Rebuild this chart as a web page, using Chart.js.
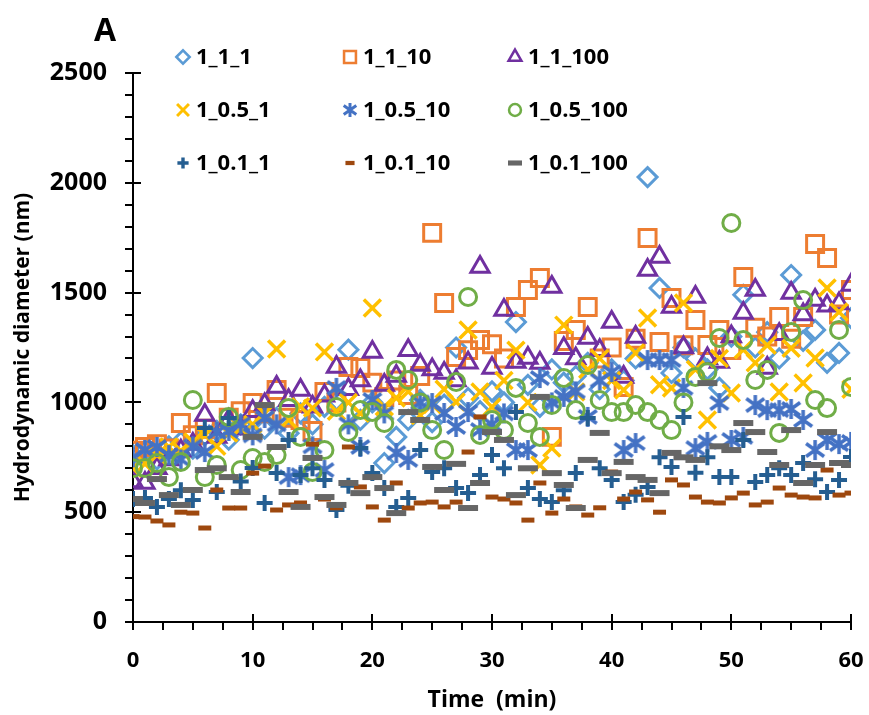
<!DOCTYPE html>
<html>
<head>
<meta charset="utf-8">
<script src="https://cdn.jsdelivr.net/npm/chart.js@4.4.1/dist/chart.umd.min.js"></script>
<style>
  html, body { margin: 0; padding: 0; background: #ffffff; }
  #wrap { position: relative; width: 869px; height: 715px; }
</style>
</head>
<body>
<div id="wrap"><canvas id="chart" width="869" height="715"></canvas></div>
<script>
// Sampling times (min)
const times = [0, 1, 2, 3, 4, 5, 6, 7, 8, 9,
  10, 11, 12, 13, 14, 15, 16, 17, 18, 19,
  20, 21, 22, 23, 24, 25, 26, 27, 28, 29,
  30, 31, 32, 33, 34, 35, 36, 37, 38, 39,
  40, 41, 42, 43, 44, 45, 46, 47, 48, 49,
  50, 51, 52, 53, 54, 55, 56, 57, 58, 59, 60];

// Hydrodynamic diameter (nm) per formulation
const d_1_1_1 = [760, 780, 740, 800, 820, 790, 850, 870, 830, 900,
  1202, 880, 930, 860, 950, 900, 980, 1010, 1240, 920,
  1000, 724, 843, 920, 1011, 910, 990, 1250, 1020, 960,
  1050, 1000, 1366, 1080, 980, 1150, 1090, 1120, 1180, 1060,
  1150, 1100, 1200, 2026, 1521, 1134, 1250, 1200, 1150, 1066,
  1300, 1490, 1250, 1320, 1200, 1580, 1280, 1330, 1180, 1225, 1384];
const d_1_1_10 = [780, 797, 810, 790, 906, 850, 880, 1043, 930, 960,
  997, 950, 1056, 930, 920, 870, 1047, 1000, 1161, 1157,
  1090, 1025, 1100, 1034, 1120, 1772, 1453, 1207, 1238, 1284,
  1265, 1200, 1434, 1512, 1566, 843, 1280, 1330, 1434, 1200,
  1250, 1070, 1290, 1749, 1275, 1475, 1260, 1375, 1261, 1330,
  1238, 1571, 1340, 1300, 1389, 1290, 1389, 1721, 1658, 1400, 1512];
const d_1_1_100 = [640, 633, 700, 740, 780, 810, 943, 843, 920, 880,
  960, 990, 1070, 1010, 1056, 980, 1030, 1161, 1060, 1100,
  1230, 1079, 1120, 1238, 1170, 1150, 1134, 1100, 1180, 1617,
  1157, 1421, 1184, 1202, 1179, 1525, 1247, 1200, 1293, 1238,
  1366, 1116, 1298, 1603, 1662, 1434, 1250, 1480, 1200, 1184,
  1300, 1407, 1512, 1157, 1310, 1498, 1400, 1466, 1440, 1450, 1535];
const d_1_05_1 = [700, 720, 760, 797, 780, 820, 850, 800, 860, 883,
  900, 950, 1243, 920, 980, 974, 1230, 960, 1000, 950,
  1430, 980, 1020, 1050, 940, 990, 1060, 1002, 1330, 1047,
  979, 1100, 1238, 1000, 715, 792, 1352, 1047, 1150, 1200,
  1100, 1056, 1225, 1384, 1080, 1066, 1453, 1150, 920, 1200,
  1043, 1240, 1180, 1260, 1047, 1247, 1088, 1202, 1521, 1412, 1060];
const d_1_05_10 = [750, 783, 797, 760, 740, 800, 774, 865, 870, 900,
  850, 929, 900, 660, 669, 800, 692, 1066, 900, 797,
  1011, 950, 770, 738, 1000, 997, 952, 888, 956, 874,
  900, 950, 783, 783, 1111, 1000, 1025, 1050, 934, 1100,
  1138, 783, 815, 1193, 1193, 1193, 1066, 792, 820, 997,
  829, 843, 988, 965, 965, 970, 920, 783, 829, 810, 820];
const d_1_05_100 = [700, 701, 724, 660, 729, 1011, 660, 715, 934, 692,
  747, 729, 760, 975, 843, 683, 783, 979, 865, 965,
  956, 906, 1148, 1102, 1000, 874, 783, 1093, 1480, 852,
  920, 874, 1066, 906, 843, 988, 1111, 965, 1170, 1011,
  956, 956, 988, 956, 920, 874, 1000, 1116, 1138, 1293,
  1817, 1284, 1102, 1148, 861, 1321, 1466, 1011, 974, 1330, 1070];
const d_1_01_1 = [560, 565, 524, 560, 600, 556, 883, 592, 929, 640,
  701, 542, 678, 829, 669, 700, 647, 510, 620, 792,
  678, 610, 524, 565, 783, 683, 700, 610, 587, 669,
  760, 700, 956, 610, 560, 546, 600, 678, 929, 700,
  647, 546, 580, 615, 750, 706, 934, 680, 750, 660,
  660, 829, 637, 669, 700, 669, 724, 650, 592, 647, 751];
const d_1_01_10 = [480, 478, 460, 442, 500, 496, 428, 601, 519, 519,
  678, 710, 510, 533, 542, 810, 560, 520, 797, 615,
  524, 464, 633, 519, 542, 546, 524, 546, 774, 934,
  569, 560, 542, 464, 633, 496, 560, 524, 487, 520,
  683, 560, 592, 556, 500, 647, 624, 569, 546, 542,
  565, 587, 533, 546, 610, 578, 569, 565, 692, 578, 587];
const d_1_01_100 = [560, 542, 651, 578, 533, 601, 692, 700, 660, 592,
  843, 988, 797, 592, 524, 747, 569, 533, 633, 587,
  660, 610, 496, 956, 920, 706, 601, 720, 519, 633,
  865, 829, 578, 700, 1025, 678, 624, 519, 738, 861,
  678, 729, 660, 647, 587, 770, 750, 738, 1088, 800,
  783, 906, 865, 774, 715, 874, 633, 715, 865, 724, 715];

const seriesNames = ['1_1_1', '1_1_10', '1_1_100',
  '1_0.5_1', '1_0.5_10', '1_0.5_100',
  '1_0.1_1', '1_0.1_10', '1_0.1_100'];
const seriesValues = [d_1_1_1, d_1_1_10, d_1_1_100,
  d_1_05_1, d_1_05_10, d_1_05_100,
  d_1_01_1, d_1_01_10, d_1_01_100];

// Axis ranges and tick spacing
const xMin = 0, xMax = 60, xMajor = 10, xMinor = 2.5;
const yMin = 0, yMax = 2500, yMajor = 500, yMinor = 100;

// Six-armed asterisk marker (diagonal cross plus vertical bar)
function asteriskMarker(size, lineWidth, color) {
  const c = document.createElement('canvas');
  const pad = Math.ceil(lineWidth);
  c.width = c.height = Math.ceil(size + 2 * pad);
  const g = c.getContext('2d');
  const m = c.width / 2, h = size / 2, d = h * 0.9;
  g.strokeStyle = color;
  g.lineWidth = lineWidth;
  g.beginPath();
  g.moveTo(m, m - h); g.lineTo(m, m + h);
  g.moveTo(m - d, m - d * 0.72); g.lineTo(m + d, m + d * 0.72);
  g.moveTo(m - d, m + d * 0.72); g.lineTo(m + d, m - d * 0.72);
  g.stroke();
  return c;
}

// Marker look for each series
const markerStyles = [
  { style: 'rectRot',  color: '#5B9BD5', radius: 9.5,  width: 3 },
  { style: 'rect',     color: '#ED7D31', radius: 12,   width: 3 },
  { style: 'triangle', color: '#7030A0', radius: 10.5, width: 3 },
  { style: 'crossRot', color: '#FFC000', radius: 12,   width: 3.5 },
  { style: 'asterisk', color: '#4472C4', radius: 10,   width: 3.5 },
  { style: 'circle',   color: '#70AD47', radius: 8.5,  width: 3 },
  { style: 'cross',    color: '#255E91', radius: 8,    width: 4 },
  { style: 'line',     color: '#9E480E', radius: 6.5,  width: 5 },
  { style: 'line',     color: '#666666', radius: 10,   width: 6 }
];
const legendScale = 0.7;

function pointStyleFor(m, scale) {
  if (m.style === 'asterisk') {
    return asteriskMarker(2 * m.radius * scale, m.width * (scale < 1 ? 0.85 : 1), m.color);
  }
  return m.style;
}

const datasets = seriesNames.map((name, i) => {
  const m = markerStyles[i];
  return {
    label: name,
    data: times.map((t, k) => ({ x: t, y: seriesValues[i][k] })),
    showLine: false,
    pointStyle: pointStyleFor(m, 1),
    pointRadius: m.radius,
    pointHoverRadius: m.radius,
    pointBorderWidth: m.width,
    pointHoverBorderWidth: m.width,
    pointBorderColor: m.color,
    pointBackgroundColor: 'rgba(0,0,0,0)',
    order: seriesNames.length - i
  };
});

// Axis lines with crossing major ticks and outside minor ticks
const axisFrame = {
  id: 'axisFrame',
  beforeDatasetsDraw(chart) {
    const { ctx } = chart;
    const xs = chart.scales.x, ys = chart.scales.y;
    const x0 = Math.round(xs.getPixelForValue(xMin));
    const y0 = Math.round(ys.getPixelForValue(yMin));
    ctx.save();
    ctx.strokeStyle = '#000000';
    ctx.lineWidth = 2;
    ctx.beginPath();
    ctx.moveTo(x0, ys.getPixelForValue(yMax) - 1);
    ctx.lineTo(x0, y0 + 1);
    ctx.moveTo(x0 - 1, y0);
    ctx.lineTo(xs.getPixelForValue(xMax) + 1, y0);
    for (let v = yMin; v <= yMax + 0.001; v += yMinor) {
      const py = Math.round(ys.getPixelForValue(v));
      if (Math.abs(v % yMajor) < 0.001) {
        ctx.moveTo(x0 - 8, py); ctx.lineTo(x0 + 8, py);
      } else {
        ctx.moveTo(x0 - 8, py); ctx.lineTo(x0, py);
      }
    }
    for (let v = xMin; v <= xMax + 0.001; v += xMinor) {
      const px = Math.round(xs.getPixelForValue(v));
      if (Math.abs(v % xMajor) < 0.001) {
        ctx.moveTo(px, y0 - 8); ctx.lineTo(px, y0 + 8);
      } else {
        ctx.moveTo(px, y0); ctx.lineTo(px, y0 + 8);
      }
    }
    ctx.stroke();
    ctx.restore();
  }
};

// Three-column legend and panel letter
const legendMarkers = markerStyles.map(m => pointStyleFor(m, legendScale));
const legendGrid = {
  id: 'legendGrid',
  afterDraw(chart) {
    const { ctx } = chart;
    const colMarker = [183, 350, 515];
    const colText = [196, 363, 528];
    const rowY = [57, 110, 163];
    ctx.save();
    ctx.fillStyle = '#000000';
    ctx.font = 'bold 32px "Open Sans", sans-serif';
    ctx.textAlign = 'center';
    ctx.textBaseline = 'middle';
    ctx.fillText('A', 105, 32);
    ctx.font = 'bold 22px "Open Sans", sans-serif';
    ctx.textAlign = 'left';
    seriesNames.forEach((name, i) => {
      const col = i % 3, row = Math.floor(i / 3);
      const m = markerStyles[i];
      ctx.save();
      ctx.strokeStyle = m.color;
      ctx.fillStyle = 'rgba(0,0,0,0)';
      ctx.lineWidth = m.width * 0.85;
      Chart.helpers.drawPoint(ctx, {
        pointStyle: legendMarkers[i],
        radius: m.radius * legendScale,
        rotation: 0,
        borderWidth: m.width * 0.85
      }, colMarker[col], rowY[row]);
      ctx.restore();
      ctx.fillStyle = '#000000';
      ctx.fillText(name, colText[col], rowY[row] + 1);
    });
    ctx.restore();
  }
};

new Chart(document.getElementById('chart'), {
  type: 'scatter',
  data: { datasets },
  plugins: [axisFrame, legendGrid],
  options: {
    responsive: false,
    animation: false,
    devicePixelRatio: 1,
    layout: { padding: { top: 73, right: 18, left: 0, bottom: 0 } },
    plugins: {
      legend: { display: false },
      tooltip: { enabled: false },
      title: { display: false }
    },
    scales: {
      x: {
        type: 'linear',
        min: xMin, max: xMax,
        afterFit(scale) {
          scale.height = 93;
          scale.paddingLeft = 0;
          scale.paddingRight = 0;
        },
        grid: { display: false, drawTicks: false },
        border: { display: false },
        ticks: {
          stepSize: xMajor,
          padding: 26,
          color: '#000000',
          callback: v => String(v),
          font: { family: '"Open Sans", sans-serif', weight: 'bold', size: 22 }
        },
        title: {
          display: true,
          text: 'Time  (min)',
          color: '#000000',
          padding: { top: 0, bottom: 1 },
          font: { family: '"Open Sans", sans-serif', weight: 'bold', size: 23 }
        }
      },
      y: {
        type: 'linear',
        min: yMin, max: yMax,
        afterFit(scale) {
          scale.width = 133;
          scale.paddingTop = 0;
          scale.paddingBottom = 0;
        },
        grid: { display: false, drawTicks: false },
        border: { display: false },
        ticks: {
          stepSize: yMajor,
          padding: 26,
          color: '#000000',
          callback: v => String(v),
          font: { family: '"Open Sans", sans-serif', weight: 'bold', size: 25 }
        },
        title: {
          display: true,
          text: 'Hydrodynamic diameter (nm)',
          color: '#000000',
          padding: { top: 10, bottom: 0 },
          font: { family: '"Open Sans", sans-serif', weight: 'bold', size: 21 }
        }
      }
    }
  }
});
</script>
</body>
</html>
